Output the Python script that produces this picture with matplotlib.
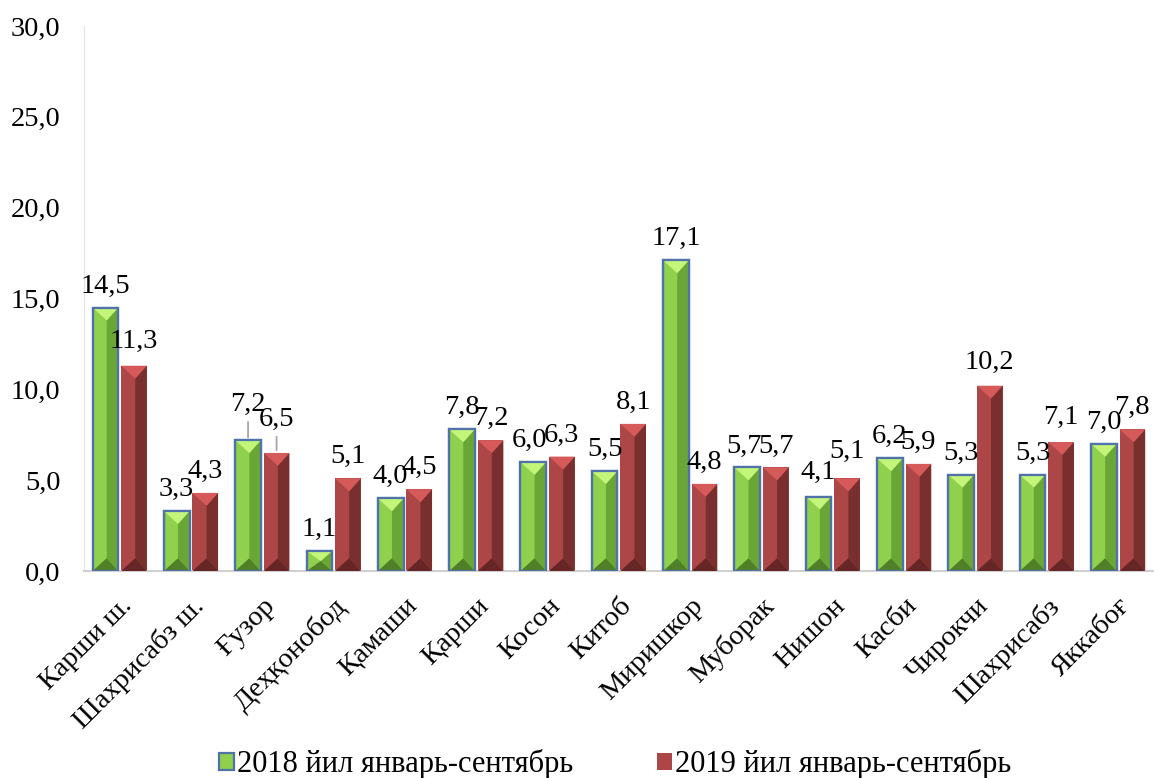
import matplotlib
matplotlib.use('Agg')
import matplotlib.pyplot as plt
import matplotlib.transforms as mtransforms
from matplotlib.patches import Polygon
import numpy as np

districts = ['Карши ш.', 'Шахрисабз ш.', 'Ғузор', 'Деҳқонобод', 'Қамаши', 'Қарши',
             'Косон', 'Китоб', 'Миришкор', 'Муборак', 'Нишон', 'Касби', 'Чирокчи',
             'Шахрисабз', 'Яккабоғ']
values_2018 = [14.5, 3.3, 7.2, 1.1, 4.0, 7.8, 6.0, 5.5, 17.1, 5.7, 4.1, 6.2, 5.3, 5.3, 7.0]
values_2019 = [11.3, 4.3, 6.5, 5.1, 4.5, 7.2, 6.3, 8.1, 4.8, 5.7, 5.1, 5.9, 10.2, 7.1, 7.8]
series_names = ['2018 йил январь-сентябрь', '2019 йил январь-сентябрь']

plt.rcParams['font.family'] = ['Liberation Serif', 'DejaVu Serif']
FS = 20.5

# label nudges in pixels (dx, extra dy), like Excel placed them
nudge_2018 = [(0, 0), (0, 0), (0, 14), (0, 0), (0, 0), (0, 0), (-4, 0), (0, 0),
              (0, 0), (-3, 0), (0, 3), (0, 0), (0, 0), (0, 0), (0, 0)]
nudge_2019 = [(0, 3), (0, 0), (0, 12), (0, 0), (0, 0), (0, 0), (0, 0), (0, 0),
              (0, 0), (0, 0), (0, 5), (0, 0), (0, 2), (0, 3), (0, 0)]

fig = plt.figure(figsize=(11.54, 7.78), dpi=100)
ax = fig.add_axes([0.0728, 0.266, 0.927, 0.7006])

x = np.arange(len(districts))
w = 0.36
off = 0.2

styles = [
    dict(base='#8fd04c', light='#c2f57a', dark='#6aa636', bottom='#4f7f26', edge='#4f73a8'),
    dict(base='#ad4646', light='#d65a5a', dark='#7a2f2f', bottom='#662626', edge=None),
]

ax.set_xlim(-0.5, len(districts) - 0.5)
ax.set_ylim(0, 30)

# pixel -> data scale
px_per_x = ax.bbox.width / (len(districts))
px_per_y = ax.bbox.height / 30.0

for k, (vals, st, nudges) in enumerate(zip([values_2018, values_2019], styles,
                                            [nudge_2018, nudge_2019])):
    xs = x - off if k == 0 else x + off
    bars = ax.bar(xs, vals, width=w, color=st['base'],
                  edgecolor=st['edge'] if st['edge'] else 'none',
                  linewidth=1.6 if st['edge'] else 0, label=series_names[k], zorder=2)
    for b, v, (ndx, ndy) in zip(bars, vals, nudges):
        x0 = b.get_x()
        x1 = x0 + b.get_width()
        xc = x0 + b.get_width() * 0.55
        xm = x0 + b.get_width() / 2
        d = (b.get_width() * px_per_x / 2) / px_per_y
        d = min(d, v / 2)
        # right facet
        ax.add_patch(Polygon([(xc, d), (x1, 0), (x1, v), (xc, v - d)], closed=True,
                             facecolor=st['dark'], edgecolor='none', zorder=3))
        # top facet
        ax.add_patch(Polygon([(x0, v), (x1, v), (xc, v - d)], closed=True,
                             facecolor=st['light'], edgecolor='none', zorder=3))
        # bottom facet
        ax.add_patch(Polygon([(x0, 0), (x1, 0), (xc, d)], closed=True,
                             facecolor=st['bottom'], edgecolor='none', zorder=3))
        if st['edge']:
            ax.add_patch(plt.Rectangle((x0, 0), x1 - x0, v, fill=False,
                                       edgecolor=st['edge'], linewidth=1.6, zorder=4))
        lab = ('%.1f' % v).replace('.', ',')
        ax.annotate(lab, (xm, v), xytext=(ndx * 0.72, 6.5 + ndy * 0.72),
                    textcoords='offset points', ha='center', va='bottom',
                    fontsize=FS, zorder=5)
        if ndy > 8:
            ax.annotate('', (xm, v), xytext=(xm, v + (ndy + 7) / px_per_y),
                        arrowprops=dict(arrowstyle='-', color='#a6a6a6', lw=1.3))

ax.set_yticks(np.arange(0, 31, 5))
ax.set_yticklabels([('%.1f' % t).replace('.', ',') for t in np.arange(0, 31, 5)],
                   fontsize=FS)
ax.set_xticks(x)
ax.set_xticklabels(districts, rotation=45, ha='right', rotation_mode='anchor',
                   fontsize=FS)
shift = mtransforms.ScaledTranslation(-12 / 100, -6 / 100, fig.dpi_scale_trans)
for t in ax.get_xticklabels():
    t.set_transform(t.get_transform() + shift)
ax.tick_params(axis='both', length=0)
ax.tick_params(axis='y', pad=17)
ax.tick_params(axis='x', pad=16)

for s in ['top', 'right']:
    ax.spines[s].set_visible(False)
ax.spines['left'].set_color('#e3e3e3')
ax.spines['bottom'].set_color('#d0d0d0')
ax.spines['bottom'].set_linewidth(1.5)

leg = fig.legend(loc='lower center', bbox_to_anchor=(0.533, -0.037), ncol=2,
                 frameon=False, fontsize=22, handlelength=0.5, handleheight=0.5,
                 handletextpad=0.1, columnspacing=2.74)

fig.savefig('out.png', dpi=100)
